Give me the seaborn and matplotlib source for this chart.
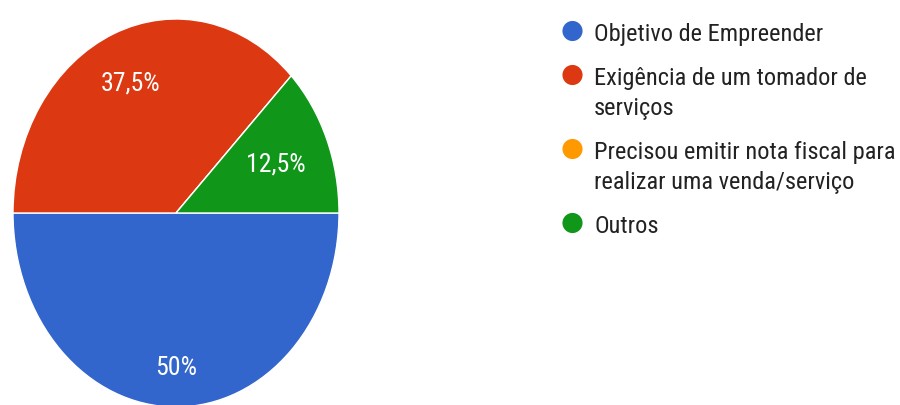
import matplotlib
matplotlib.use("Agg")
import matplotlib.pyplot as plt
from matplotlib import font_manager as fm
import numpy as np
import seaborn as sns

# Survey answers: reason for becoming a registered micro-entrepreneur
categories = [
    "Objetivo de Empreender",
    "Exigência de um tomador de\nserviços",
    "Precisou emitir nota fiscal para\nrealizar uma venda/serviço",
    "Outros",
]
shares = [50.0, 37.5, 0.0, 12.5]
colors = ["#3366CC", "#DC3912", "#FF9900", "#109618"]

sns.set_theme(style="white")

# prefer a narrow sans face when one is available
available = {f.name for f in fm.fontManager.ttflist}
narrow = [n for n in ("Roboto Condensed", "Liberation Sans Narrow", "Arial Narrow")
          if n in available]
condensed_dejavu = any(f.name == "DejaVu Sans" and f.stretch == "condensed"
                       for f in fm.fontManager.ttflist)
if narrow:
    FONT = [narrow[0], "DejaVu Sans"]
    STRETCH = "normal"
elif condensed_dejavu:
    FONT = ["DejaVu Sans"]
    STRETCH = "condensed"
else:
    FONT = ["Roboto", "DejaVu Sans"]
    STRETCH = "normal"
plt.rcParams["font.family"] = FONT

W, H = 900, 405
fig = plt.figure(figsize=(W / 100, H / 100), dpi=100)
fig.patch.set_facecolor("white")

# Pie area (slightly stretched vertically)
ax = fig.add_axes([13 / W, -2 / H, 326 / W, 388 / H])


def fmt(p):
    if p <= 0:
        return ""
    s = f"{p:.1f}".replace(".", ",")
    if s.endswith(",0"):
        s = s[:-2]
    return s + "%"


wedges, texts, autotexts = ax.pie(
    shares,
    colors=colors,
    startangle=0,
    counterclock=False,
    autopct=fmt,
    pctdistance=0.73,
    wedgeprops=dict(edgecolor="white", linewidth=1.0),
    textprops=dict(color="white", fontsize=18),
)
ax.set_aspect("auto")
ax.set_xlim(-1, 1)
ax.set_ylim(-1, 1)
for w in wedges:
    w.set_clip_on(False)

# radial placement of the percentage labels inside each slice
label_radius = [0.80, 0.725, 0.70, 0.66]
for w, t, r in zip(wedges, autotexts, label_radius):
    ang = np.deg2rad((w.theta1 + w.theta2) / 2)
    t.set_position((r * np.cos(ang), r * np.sin(ang)))
    t.set_ha("center")
    t.set_va("center")
    t.set_family(FONT)
    t.set_fontstretch(STRETCH)

# Legend drawn in pixel coordinates
lax = fig.add_axes([0, 0, 1, 1])
lax.set_xlim(0, W)
lax.set_ylim(H, 0)
lax.axis("off")
lax.patch.set_alpha(0)

marker_x, text_x = 572.5, 594
baseline = 41
line_step, item_gap = 30, 44
legend_texts = []
for label, c in zip(categories, colors):
    lines = label.split("\n")
    lax.scatter([marker_x], [baseline - 10], s=210, color=c, edgecolors="none")
    for i, line in enumerate(lines):
        legend_texts.append(
            lax.text(text_x, baseline + i * line_step, line, fontsize=20,
                     color="#222222", ha="left", va="baseline",
                     family=FONT, fontstretch=STRETCH))
    baseline += (len(lines) - 1) * line_step + item_gap

# size the text so the widest legend line fits the space (~300 px)
renderer = fig.canvas.get_renderer()
widest = max(t.get_window_extent(renderer).width for t in legend_texts)
legend_size = 20 * 300 / widest
for t in legend_texts:
    t.set_fontsize(legend_size)
pct_ref = [t for t in autotexts if t.get_text() == "50%"]
if pct_ref:
    wp = pct_ref[0].get_window_extent(renderer).width
    pct_size = 18 * 42 / wp
    for t in autotexts:
        t.set_fontsize(pct_size)

fig.savefig("out.png", dpi=100, facecolor="white")
